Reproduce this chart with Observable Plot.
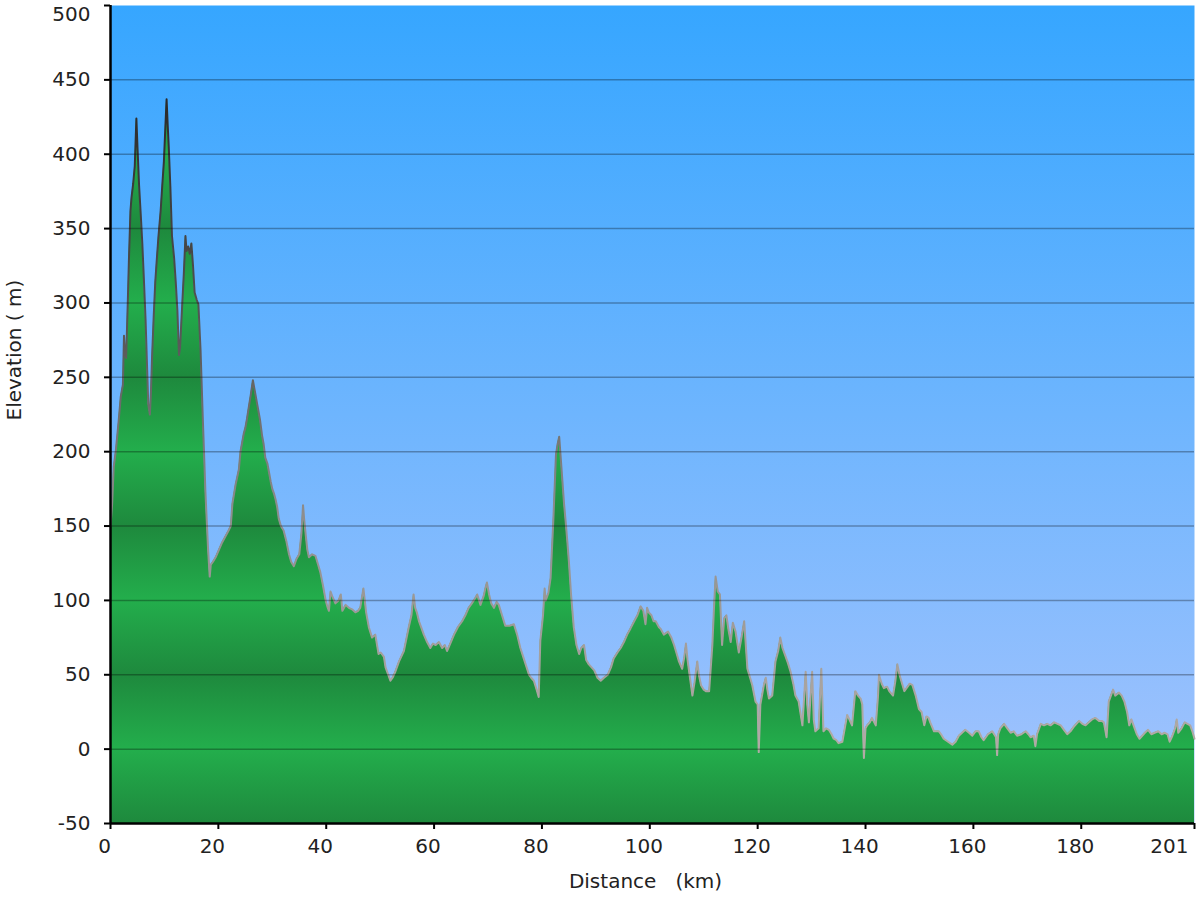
<!DOCTYPE html>
<html><head><meta charset="utf-8">
<script src="https://cdn.jsdelivr.net/npm/d3@7"></script>
<script src="https://cdn.jsdelivr.net/npm/@observablehq/plot@0.6"></script>
<style>body{margin:0;background:#fff;} #chart svg{display:block}</style>
</head><body><div id="chart"></div>
<script>
const distKm = [0,0.3,0.6,1.0,1.5,1.9,2.3,2.5,2.7,2.9,3.2,3.4,3.7,3.9,4.2,4.5,4.8,5.0,5.3,5.6,5.9,6.2,6.5,6.8,7.0,7.3,7.5,7.7,8.0,8.3,8.6,8.9,9.3,9.6,9.9,10.1,10.4,10.6,10.8,11.1,11.4,11.8,12.1,12.4,12.7,12.9,13.3,13.6,13.9,14.1,14.4,14.7,15.0,15.3,15.6,16.0,16.3,16.7,17.1,17.6,18.1,18.4,18.6,19.0,19.5,20.1,20.7,21.3,21.9,22.3,22.6,23.2,23.8,24.1,24.4,24.7,25.0,25.3,25.6,26.0,26.4,26.8,27.2,27.7,28.1,28.4,28.7,29.1,29.4,29.7,30.0,30.3,30.6,30.9,31.2,31.6,32.1,32.6,33.1,33.5,34.0,34.5,35.0,35.4,35.7,35.9,36.2,36.5,36.8,37.4,38.0,38.5,38.9,39.4,39.9,40.2,40.5,40.8,41.1,41.7,42.3,42.7,43.0,43.6,44.2,44.8,45.4,45.9,46.3,46.9,47.4,47.9,48.5,49.1,49.7,50.1,50.7,51.0,51.5,51.9,52.3,52.8,53.5,54.4,55.3,55.8,56.2,56.5,56.8,57.2,57.6,58.1,58.7,59.3,59.8,60.3,60.9,61.5,62.0,62.4,63.0,63.7,64.4,65.2,65.8,66.4,67.0,67.7,68.0,68.6,69.2,69.5,69.8,70.2,70.6,71.1,71.6,72.0,72.6,73.2,74.0,74.8,75.4,76.0,76.8,77.6,78.0,78.5,79.1,79.4,79.7,80.2,80.5,80.7,81.2,81.6,82.1,82.6,82.9,83.2,83.5,83.8,84.1,84.4,84.7,85.0,85.4,85.9,86.4,86.9,87.3,87.8,88.2,88.7,89.2,89.7,90.3,90.9,91.5,92.2,92.8,93.3,94.0,94.6,95.2,95.8,96.4,97.1,97.7,98.3,98.8,99.2,99.5,99.8,100.3,100.7,101.1,101.7,102.0,102.6,103.4,104.0,104.5,105.0,105.4,106.0,106.4,106.7,107.0,107.3,107.9,108.3,108.8,109.1,109.5,110.0,110.4,111.0,111.6,111.9,112.2,112.6,113.0,113.4,113.8,114.2,114.6,115.0,115.4,115.9,116.5,117.0,117.5,118.1,118.6,119.0,119.6,120.0,120.2,120.5,120.7,121.2,121.5,121.8,122.1,122.7,123.3,123.8,124.2,124.6,125.1,125.6,126.1,126.6,127.0,127.6,128.3,128.9,129.2,129.5,130.1,130.4,130.7,131.3,131.8,132.2,132.7,133.2,133.7,134.1,134.6,135.0,135.7,136.2,136.6,137.0,137.5,138.1,138.6,139.1,139.4,139.7,140.0,140.3,140.8,141.2,141.9,142.3,142.5,143.0,143.4,144.0,144.4,145.1,145.5,145.9,146.3,146.7,147.2,147.8,148.2,148.7,149.3,149.9,150.4,150.9,151.3,151.7,152.0,152.7,153.6,154.0,154.5,155.3,156.1,156.7,157.3,157.9,158.5,159.2,159.8,160.4,161.0,161.5,161.9,162.7,163.5,164.2,164.4,164.6,165.0,165.7,166.3,166.9,167.5,168.1,168.9,169.7,170.2,170.6,171.2,171.5,171.8,172.5,173.1,173.7,174.3,175.0,175.6,176.2,176.8,177.4,178.0,178.6,179.1,179.6,180.2,180.8,181.4,182.0,182.6,183.3,183.8,184.2,184.7,185.1,185.5,185.9,186.3,187.0,187.5,188.0,188.5,188.9,189.3,189.8,190.3,190.8,191.3,191.8,192.4,193.0,193.6,194.3,194.9,195.5,196.0,196.4,196.9,197.4,197.7,198.0,198.6,199.2,199.7,200.2,200.6,201.0];
const elevM = [150,165,190,201,220,237,245,278,265,263,300,327,362,371,380,392,424,405,379,360,340,315,289,255,232,225,240,263,290,314,330,345,362,379,395,412,437,420,405,378,345,330,314,295,265,270,299,320,345,335,338,333,340,325,307,302,299,268,224,173,134,116,124,126,129,134,139,143,147,150,165,178,188,200,206,212,216,222,229,238,248,240,232,222,211,205,196,192,186,180,175,172,168,163,155,150,147,140,131,126,123,128,131,145,164,155,144,134,129,131,130,124,119,110,100,96,93,106,103,98,100,104,93,97,95,94,92,93,95,108,92,82,75,77,64,65,62,55,50,46,48,52,59,66,82,90,104,95,92,86,82,77,72,68,71,70,72,68,70,66,71,77,82,86,90,95,98,102,104,97,103,108,112,104,98,95,99,97,90,83,83,84,77,68,59,50,48,46,39,35,73,90,108,100,105,115,153,198,205,210,195,180,165,153,140,126,104,82,70,64,68,70,60,57,55,53,48,46,48,50,55,61,65,68,72,77,81,86,90,96,93,84,95,92,90,86,86,82,81,77,79,75,70,64,59,54,62,71,60,52,36,45,59,50,43,40,39,39,70,95,116,106,104,70,88,90,80,72,85,79,65,75,86,54,48,43,32,30,-2,30,34,44,48,40,34,36,59,66,75,68,63,58,52,44,36,32,16,52,30,18,52,20,12,14,54,12,14,13,10,7,6,4,5,15,23,20,16,39,36,34,30,-6,14,16,18,21,16,35,50,44,41,42,39,36,45,57,50,45,39,42,44,43,36,27,25,16,22,21,18,12,12,10,7,5,3,5,9,11,13,11,9,12,12,8,6,10,12,8,-4,10,14,17,14,11,12,9,10,12,10,8,9,2,10,17,16,17,16,18,17,16,13,10,12,15,17,19,17,16,18,20,21,19,19,18,8,32,36,40,36,38,36,32,25,16,20,15,10,7,9,11,13,10,11,12,10,11,10,5,9,14,20,11,14,18,17,16,12,7];
const xTickValues = [0,20,40,60,80,100,120,140,160,180];
const xEndTick = [201];
const yTickValues = [-50,0,50,100,150,200,250,300,350,400,450,500];
const yTopTick = [500];
const gridLevels = [0,50,100,150,200,250,300,350,400,450];
const xTitle = ["Distance\u00a0\u00a0\u00a0(km)"];
const yTitle = ["Elevation\u00a0(\u00a0m)"];

const profile = distKm.map((d, i) => ({d, e: elevM[i]}));

const chart = Plot.plot({
  width: 1200, height: 900,
  marginLeft: 110, marginRight: 6, marginTop: 5, marginBottom: 77,
  style: {fontFamily: "'DejaVu Sans', Verdana, sans-serif", fontSize: "20px", color: "#222", background: "#fff", overflow: "visible"},
  x: {domain: [0, 201]},
  y: {domain: [-50, 500]},
  marks: [
    Plot.frame({fill: "url(#bgGrad)", stroke: null}),
    Plot.areaY(profile, {x: "d", y1: -50, y2: "e", fill: "url(#greenGrad)"}),
    Plot.lineY(profile, {x: "d", y: "e", stroke: "url(#edgeGrad)", strokeWidth: 2}),
    Plot.ruleY(gridLevels, {stroke: "#000", strokeOpacity: 0.3, strokeWidth: 1.5}),
    Plot.axisY({ticks: yTickValues, label: null, tickSize: 6, tickPadding: 14, strokeWidth: 2, stroke: "#000", fill: "#222",
      tickFormat: d => d === 500 ? "" : String(d)}),
    Plot.text(yTopTick, {y: d => d, frameAnchor: "left", textAnchor: "end", dx: -20, dy: 9, fill: "#222"}),
    Plot.axisX({ticks: [...xTickValues, ...xEndTick], label: null, tickSize: 6, strokeWidth: 2, stroke: "#000", tickFormat: () => ""}),
    Plot.text(xTickValues, {x: d => d, frameAnchor: "bottom", lineAnchor: "top", dy: 15, dx: -6, fill: "#222"}),
    Plot.text(xEndTick, {x: d => d, frameAnchor: "bottom", lineAnchor: "top", textAnchor: "end", dy: 15, dx: -6, fill: "#222"}),
    Plot.ruleX([0], {y1: -50, y2: 500, stroke: "#000", strokeWidth: 2.5}),
    Plot.ruleY([-50], {x1: 0, x2: 201, stroke: "#000", strokeWidth: 2.5}),
    Plot.text(xTitle, {frameAnchor: "bottom", dy: 64, dx: -7, fill: "#222"}),
    Plot.text(yTitle, {frameAnchor: "left", rotate: -90, dx: -96, dy: 6, fill: "#222"})
  ]
});

const ys = chart.scale("y");
const svg = d3.select(chart);
const defs = svg.insert("defs", ":first-child");
function grad(id, v1, v2, stops, spread) {
  const g = defs.append("linearGradient").attr("id", id)
    .attr("gradientUnits", "userSpaceOnUse")
    .attr("x1", 0).attr("x2", 0)
    .attr("y1", ys.apply(v1)).attr("y2", ys.apply(v2));
  if (spread) g.attr("spreadMethod", spread);
  stops.forEach(([o, c]) => g.append("stop").attr("offset", o).attr("stop-color", c));
}
grad("bgGrad", 500, -50, [[0, "#36a6ff"], [1, "#a6c4fd"]]);
grad("greenGrad", 0, 50, [[0, "#23ae4c"], [1, "#1e893d"]], "reflect");
grad("edgeGrad", 450, 0, [[0, "#262626"], [0.4, "#5a5a5a"], [0.65, "#8e8e8e"], [1, "#b2aba6"]]);

document.getElementById("chart").appendChild(chart);
</script>
</body></html>
